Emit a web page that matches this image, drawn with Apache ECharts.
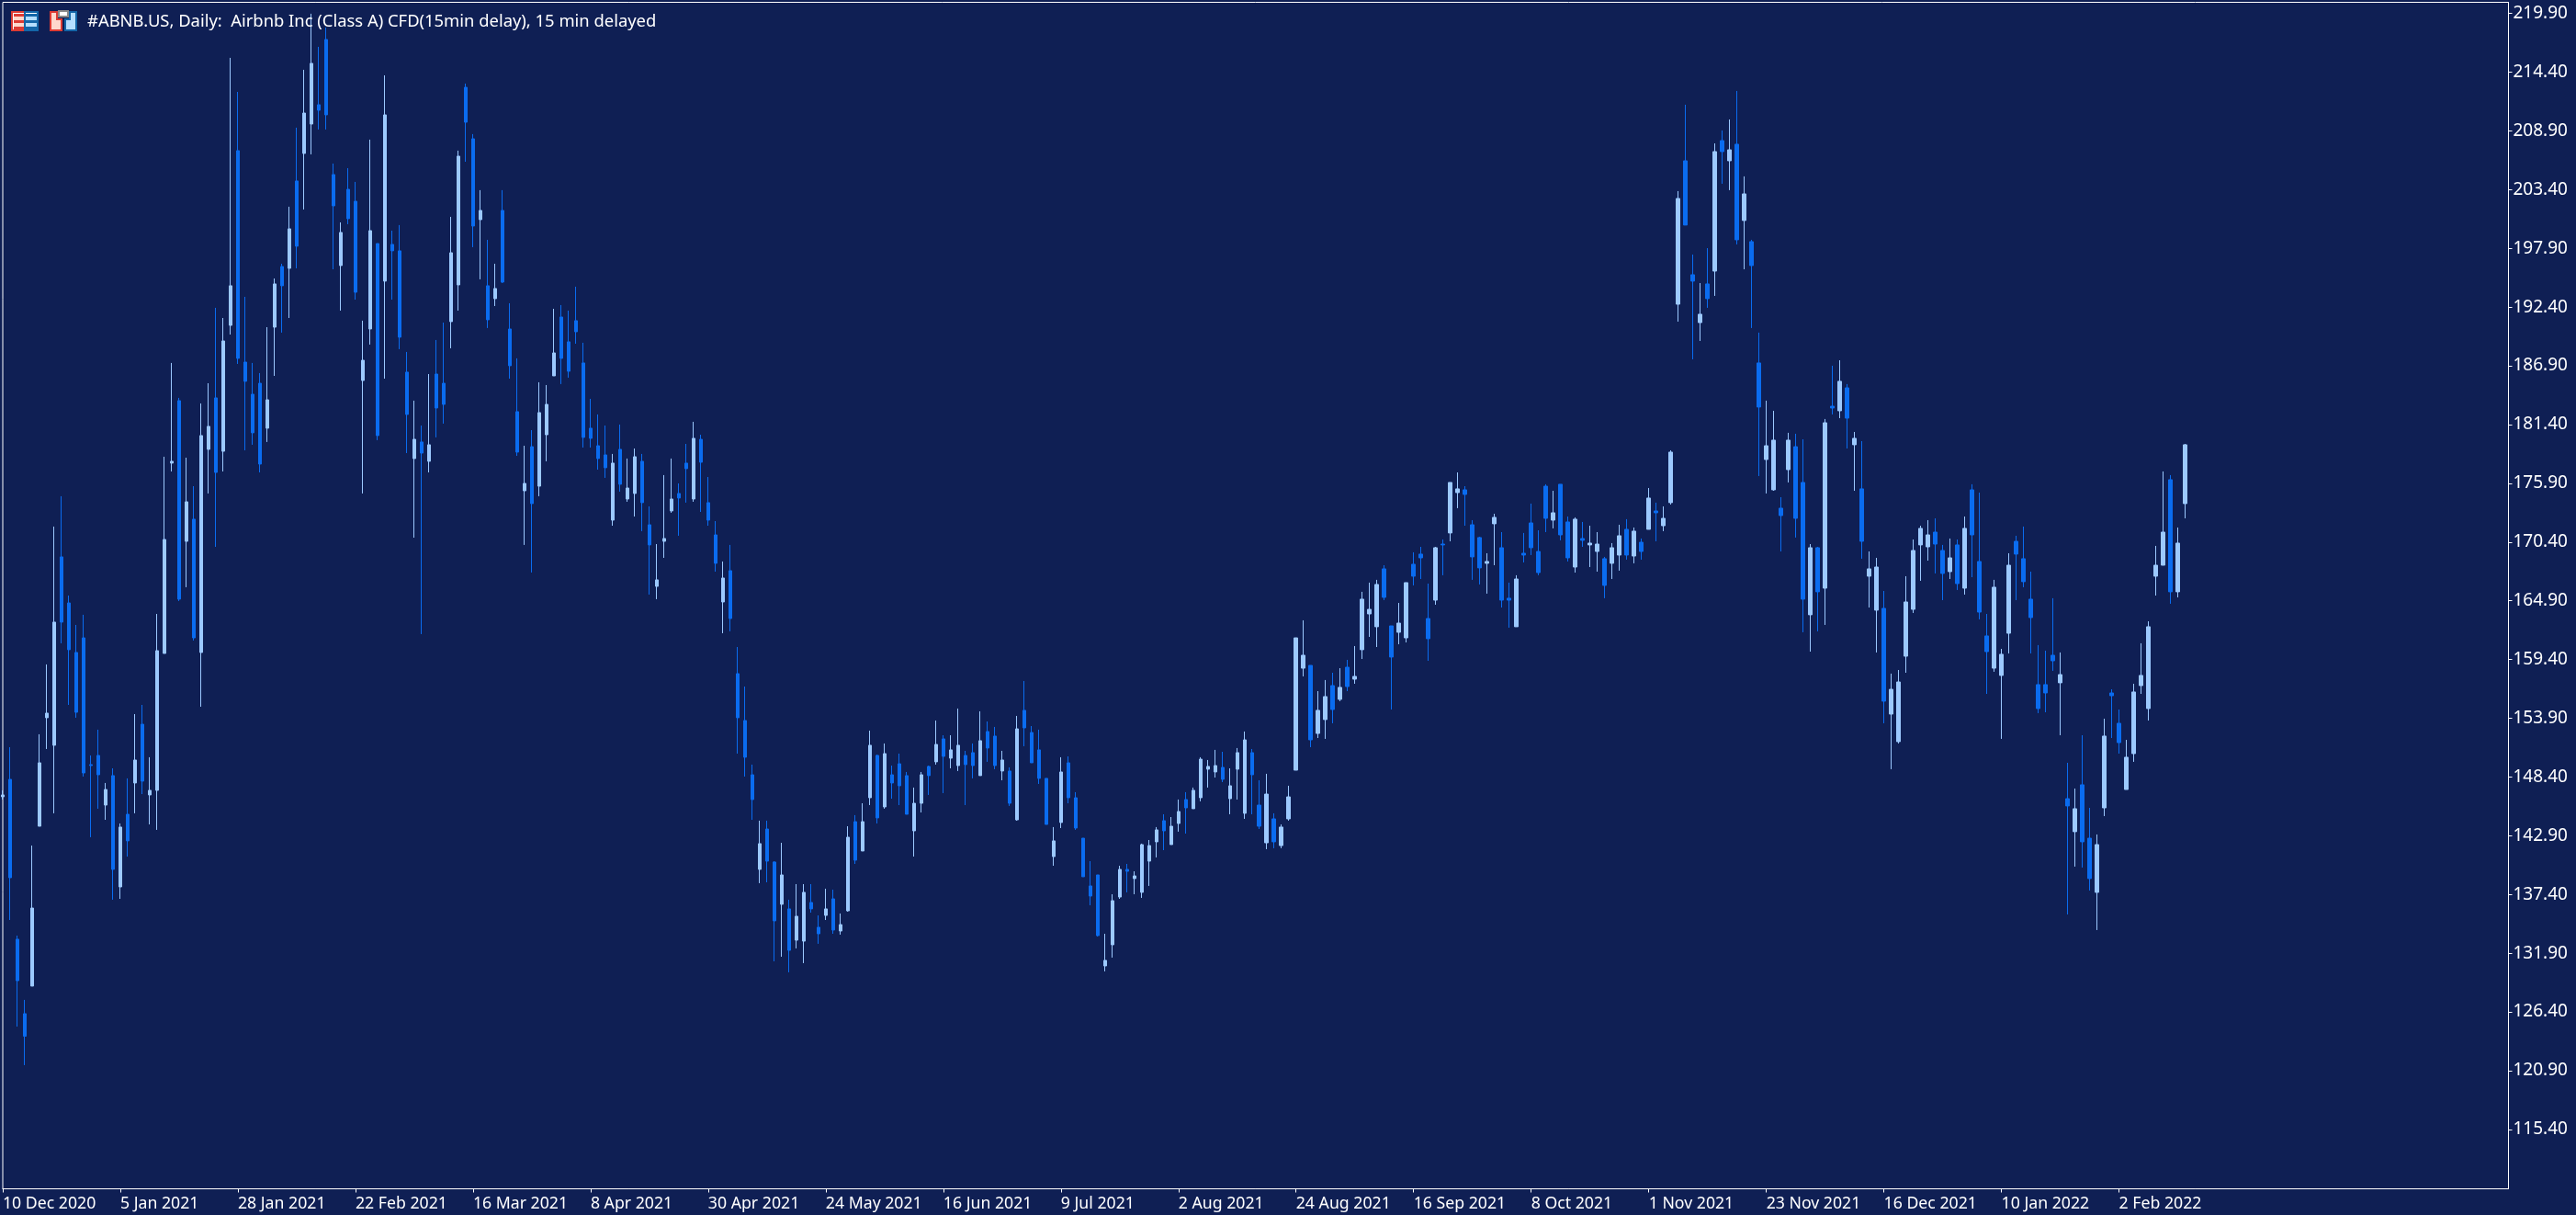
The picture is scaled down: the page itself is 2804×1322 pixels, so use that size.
<!DOCTYPE html>
<html>
<head>
<meta charset="utf-8">
<style>html,body{margin:0;padding:0;background:#0F1F54;}#c{width:2804px;height:1322px;}</style>
<script src="https://cdn.jsdelivr.net/npm/echarts@6/dist/echarts.min.js"></script>
</head>
<body>
<div id="c"></div>
<script>
const dateTicks = ["10 Dec 2020","5 Jan 2021","28 Jan 2021","22 Feb 2021","16 Mar 2021","8 Apr 2021","30 Apr 2021","24 May 2021","16 Jun 2021","9 Jul 2021","2 Aug 2021","24 Aug 2021","16 Sep 2021","8 Oct 2021","1 Nov 2021","23 Nov 2021","16 Dec 2021","10 Jan 2022","2 Feb 2022"];
const priceTicks = [219.9,214.4,208.9,203.4,197.9,192.4,186.9,181.4,175.9,170.4,164.9,159.4,153.9,148.4,142.9,137.4,131.9,126.4,120.9,115.4];
const title = "#ABNB.US, Daily:  Airbnb Inc (Class A) CFD(15min delay), 15 min delayed";
const opens = [146.55,148.18,133.21,126.24,128.82,143.79,153.95,151.37,169.01,164.70,160.06,161.43,149.56,150.42,145.77,148.53,138.11,144.91,147.84,153.34,
146.72,147.15,159.97,177.79,183.64,170.47,172.54,160.06,179.08,183.90,178.90,190.69,207.05,187.25,184.24,185.27,181.06,190.52,196.20,196.03,
204.21,206.79,209.54,211.35,217.46,204.81,196.29,203.43,202.31,185.53,190.35,198.35,194.83,198.27,197.67,186.31,178.22,179.77,177.96,186.13,
185.27,191.04,194.48,212.98,208.16,200.59,194.40,193.19,201.45,190.35,182.61,175.20,179.33,175.63,180.45,185.96,191.47,189.15,191.13,187.17,
181.06,179.42,178.56,172.45,179.08,174.43,174.95,177.96,172.02,166.25,170.47,173.31,174.95,177.79,174.43,180.02,174.09,171.07,164.79,167.72,
158.08,153.69,148.61,139.75,143.53,140.44,136.48,136.05,133.12,133.03,136.65,134.33,135.44,136.99,133.98,135.87,144.22,141.47,146.46,150.42,
145.60,148.61,149.64,148.53,143.36,145.94,149.39,149.82,151.97,150.16,149.47,150.42,150.68,148.53,152.66,152.23,148.96,148.96,144.39,154.64,
152.57,150.94,148.27,140.95,144.14,149.73,146.46,142.67,138.20,139.23,130.71,132.69,137.16,139.75,138.89,137.60,140.52,142.33,144.31,142.07,
144.05,146.29,145.43,146.46,149.13,148.87,149.30,146.37,149.13,145.00,150.68,145.77,142.24,144.48,141.98,144.48,149.04,158.59,158.85,152.48,
153.78,156.96,155.67,158.68,157.56,160.32,163.67,162.47,167.89,162.55,161.95,161.43,168.32,169.27,163.24,164.96,170.21,171.25,175.03,175.29,
172.02,170.82,168.41,172.11,169.87,165.14,162.47,169.35,172.19,169.52,175.63,172.45,175.81,172.28,168.06,170.73,170.13,169.52,168.84,168.41,
169.18,171.59,169.09,170.38,171.59,173.31,171.93,174.09,192.67,206.10,195.43,190.95,194.57,195.77,207.99,206.10,207.65,200.51,198.53,187.17,
178.13,175.29,173.57,177.18,179.33,175.98,163.59,169.87,166.08,183.12,182.69,184.84,179.51,175.38,167.20,164.02,164.19,154.29,151.71,159.71,
164.10,170.13,169.95,171.33,169.61,167.63,170.13,166.08,175.29,168.58,161.61,158.59,157.91,161.86,170.47,168.84,165.05,157.05,157.05,159.80,
157.22,146.37,143.28,147.67,142.67,137.60,145.51,156.27,153.43,147.23,150.59,156.96,154.81,167.20,168.23,176.24,165.74,174.00];
const closes = [146.72,138.97,129.33,124.13,136.13,149.73,154.38,162.90,162.90,160.32,154.46,148.78,149.47,148.61,147.23,139.75,143.71,142.42,149.99,148.01,
147.15,160.23,170.64,177.96,165.05,174.17,161.43,180.37,181.23,176.92,189.23,194.40,187.60,185.45,180.63,177.70,183.72,194.57,194.40,199.73,
198.10,210.57,215.22,210.83,210.40,201.88,199.39,200.68,193.79,187.42,199.56,180.37,210.40,197.67,189.58,182.35,180.02,178.73,179.51,182.95,
183.29,197.49,206.53,209.71,199.99,201.45,191.21,194.14,194.74,186.91,178.82,175.89,174.00,182.52,183.29,188.11,187.60,186.39,190.09,180.20,
180.11,178.22,177.36,177.79,175.81,175.46,178.39,174.09,170.13,166.86,170.73,174.43,174.52,177.27,180.11,177.87,172.45,168.41,167.03,163.24,
153.95,150.25,146.29,142.16,140.52,134.93,139.23,132.17,135.36,137.60,136.05,133.72,136.05,134.07,134.58,142.76,140.61,144.22,151.37,144.57,
150.59,147.84,147.58,144.91,145.94,148.61,148.53,151.45,150.33,150.94,151.37,149.56,149.47,151.80,151.11,149.47,149.99,145.94,152.91,153.00,
149.73,148.27,143.96,142.42,148.87,146.46,143.62,139.06,137.25,133.55,131.23,136.82,139.75,139.57,139.14,142.07,141.98,143.45,143.36,143.79,
145.17,145.51,147.15,150.07,149.39,149.47,148.18,147.58,150.68,151.88,148.61,143.79,146.80,142.33,143.71,146.54,161.43,159.80,151.88,154.64,
155.93,154.72,156.79,156.87,157.82,165.05,164.10,166.43,165.22,159.63,162.81,166.60,167.20,168.92,161.35,169.87,170.13,175.98,175.38,174.86,
169.01,167.98,168.58,172.71,164.96,164.96,166.94,169.18,169.87,167.54,172.62,173.14,171.07,168.92,172.54,170.56,170.30,170.21,166.34,169.87,
170.99,169.18,171.42,169.52,174.52,173.14,172.62,178.82,202.57,200.08,194.83,191.73,193.19,206.96,206.96,207.13,198.70,203.00,196.29,183.04,
179.42,179.94,172.88,179.94,172.62,165.05,169.87,165.74,181.57,182.95,185.45,182.00,180.11,170.47,167.89,168.06,155.50,156.61,157.30,164.79,
169.61,171.68,171.07,170.21,167.46,168.92,166.51,171.68,171.07,163.84,160.14,166.17,159.89,168.23,169.27,166.69,163.33,154.81,156.27,159.28,
157.99,145.69,145.43,142.33,138.89,142.07,152.23,156.01,151.62,150.25,156.36,157.91,162.47,168.23,171.33,165.74,170.30,179.51];
const lows = [146.29,135.01,125.03,121.42,128.82,143.79,151.02,145.00,160.92,155.15,153.95,148.44,142.76,145.43,144.39,136.91,136.99,140.95,145.00,146.80,
143.96,143.45,159.97,177.01,164.88,166.17,161.18,154.98,174.95,169.95,177.01,189.83,187.08,178.99,179.51,176.92,179.77,185.96,190.01,191.38,
196.03,201.54,206.70,209.03,209.03,195.94,192.07,200.16,193.10,174.95,188.89,179.94,185.70,193.10,188.46,178.73,170.81,161.78,176.92,180.20,
181.49,188.54,192.07,206.01,198.01,195.00,190.44,192.50,194.65,185.70,178.47,170.13,167.55,174.69,177.96,185.96,185.19,185.79,188.97,179.25,
179.25,177.18,176.41,171.93,175.12,174.17,172.79,171.42,165.48,165.05,168.92,173.14,170.99,174.09,174.17,173.22,171.93,167.63,161.86,162.04,
150.59,148.44,144.39,138.46,138.54,131.14,131.57,130.11,132.35,130.97,135.70,132.78,135.01,133.72,133.64,135.79,140.26,141.47,145.77,144.05,
145.43,146.37,145.77,144.91,140.95,145.08,146.72,149.56,146.89,149.21,148.96,145.77,148.27,148.53,149.82,149.13,148.09,145.69,144.31,151.28,
149.73,147.75,143.96,140.09,143.62,145.94,143.45,139.06,136.39,133.46,130.20,131.49,136.99,137.60,137.42,137.08,138.20,140.87,141.55,142.07,
143.28,143.10,145.43,146.12,147.41,148.35,147.92,144.91,146.29,144.48,144.91,143.53,141.64,141.73,141.73,144.31,149.04,157.82,151.19,152.05,
151.97,153.43,155.50,156.44,157.13,159.45,161.52,160.57,164.96,154.72,160.83,161.00,166.34,166.94,159.28,164.53,167.29,170.47,173.57,171.93,
166.86,166.43,165.57,168.23,164.27,162.38,162.47,168.49,169.18,167.29,171.33,171.68,170.56,168.58,167.54,169.95,168.06,167.63,165.14,166.94,
167.72,168.75,168.41,168.75,171.59,170.47,171.42,173.91,191.04,200.08,187.51,189.23,192.33,193.45,203.95,203.35,198.27,195.94,190.44,176.58,
174.95,175.20,169.52,175.98,170.82,161.95,160.14,162.04,162.64,182.35,182.00,179.16,175.20,168.84,164.27,160.06,153.43,149.13,151.54,158.16,
163.76,166.77,168.66,167.46,164.96,166.94,165.91,165.48,167.11,163.16,156.18,158.25,151.97,159.97,164.96,166.17,159.97,154.38,154.46,158.34,
152.31,135.53,140.01,139.92,137.77,134.07,144.74,152.05,150.59,147.23,149.82,156.18,153.69,165.39,168.23,164.62,165.22,172.62];
const highs = [147.15,151.19,133.55,127.53,141.98,152.40,158.94,171.85,174.69,165.39,162.64,163.59,150.42,152.83,147.84,149.21,144.05,148.27,154.29,155.15,
150.25,163.67,178.39,187.17,183.90,178.30,175.63,183.38,185.27,192.33,191.38,215.74,212.55,193.36,187.17,186.22,190.52,195.08,196.46,201.80,
209.20,214.62,219.87,216.77,218.58,205.84,200.33,205.41,204.12,191.13,208.08,198.35,214.10,199.56,200.08,188.20,183.64,181.31,186.13,189.32,
190.95,200.85,207.05,213.33,208.60,203.35,198.70,196.46,203.35,192.76,187.60,179.42,180.88,185.36,185.10,192.24,192.59,192.07,194.31,189.06,
183.81,182.35,181.31,178.65,181.40,178.22,179.16,178.65,173.74,170.21,176.67,178.22,175.89,179.59,181.66,180.45,176.49,172.36,168.58,170.13,
160.57,156.87,149.56,144.31,144.31,140.52,142.24,136.91,138.37,138.37,138.37,135.44,137.94,137.85,135.62,143.79,144.83,145.94,152.74,150.50,
151.54,149.47,150.59,148.87,147.41,148.87,149.47,153.69,152.31,152.31,154.81,150.85,151.54,154.55,153.60,153.09,150.85,149.30,154.12,157.39,
153.17,152.83,148.27,143.71,150.25,150.33,146.98,142.67,140.52,139.23,133.72,137.42,140.09,140.26,139.57,142.16,142.50,143.71,144.91,144.65,
146.29,146.98,147.41,150.25,149.99,150.94,150.76,149.21,151.11,152.66,151.02,148.09,148.70,145.00,143.96,147.58,161.43,163.07,158.85,156.44,
157.48,158.16,158.59,159.37,160.66,165.74,166.60,166.86,168.23,162.55,164.70,166.60,169.44,169.95,166.51,169.95,170.64,175.98,176.92,175.63,
172.45,170.90,169.35,173.05,171.33,166.60,167.29,171.25,174.00,171.50,175.81,175.20,175.81,172.79,172.71,172.28,171.93,171.33,169.01,170.30,
172.02,172.54,171.76,170.73,175.46,174.09,173.74,178.99,203.26,211.35,197.32,194.65,197.92,207.73,208.94,209.97,212.64,204.64,198.70,190.01,
183.64,182.69,174.60,180.63,180.54,180.02,170.21,169.95,181.92,186.91,187.42,185.19,180.71,179.85,169.52,168.92,165.82,158.08,158.42,167.20,
170.64,171.93,172.45,172.62,170.13,170.73,170.64,172.79,175.81,175.03,163.67,166.86,160.40,169.35,170.99,171.85,167.63,160.75,160.23,165.14,
160.06,149.73,147.32,152.31,145.51,143.02,153.86,156.61,154.72,151.88,157.13,160.92,162.98,170.04,177.01,176.67,171.76,179.59];
const LABEL_STEP = 16, SLOT_COUNT = 342;
const categories = [];
for (let i = 0; i < SLOT_COUNT; i++) categories.push(i % LABEL_STEP === 0 && dateTicks[i / LABEL_STEP] ? dateTicks[i / LABEL_STEP] : '');
const candles = opens.map((o, i) => [o, closes[i], lows[i], highs[i]]);
const BG = '#0F1F54', UP = '#9CC9FF', DOWN = '#0A6CF0', WHITE = '#FFFFFF', FONT = '"Noto Sans", sans-serif';
const showTick = (i) => i % LABEL_STEP === 0 && i / LABEL_STEP < dateTicks.length;
const red = '#DD3B33', blue = '#1466A8';
const icons = [
 {type:'rect',shape:{x:13,y:13,width:14,height:20},style:{fill:'#FFFFFF',stroke:red,lineWidth:2}},
 {type:'rect',shape:{x:27,y:13,width:14,height:20},style:{fill:'#FFFFFF',stroke:blue,lineWidth:2}},
 {type:'rect',shape:{x:15,y:15,width:11,height:3},style:{fill:red}},
 {type:'rect',shape:{x:15,y:18,width:11,height:4},style:{fill:'#FFD8CC'}},
 {type:'rect',shape:{x:15,y:22,width:11,height:3},style:{fill:red}},
 {type:'rect',shape:{x:15,y:25,width:11,height:4},style:{fill:'#FFD8CC'}},
 {type:'rect',shape:{x:15,y:29,width:11,height:3},style:{fill:red}},
 {type:'rect',shape:{x:28,y:15,width:12,height:3},style:{fill:blue}},
 {type:'rect',shape:{x:28,y:18,width:12,height:4},style:{fill:'#B5DEFF'}},
 {type:'rect',shape:{x:28,y:22,width:12,height:3},style:{fill:blue}},
 {type:'rect',shape:{x:28,y:25,width:12,height:4},style:{fill:'#B5DEFF'}},
 {type:'rect',shape:{x:28,y:29,width:12,height:3},style:{fill:blue}},
 {type:'polygon',shape:{points:[[55,13],[62,13],[62,21],[67,21],[67,33],[55,33]]},style:{fill:'#FFD8CC',stroke:red,lineWidth:2}},
 {type:'polygon',shape:{points:[[76,13],[83,13],[83,33],[71,33],[71,21],[76,21]]},style:{fill:'#B5DEFF',stroke:blue,lineWidth:2}},
 {type:'rect',shape:{x:64,y:12,width:10,height:6},style:{fill:'#FFFFFF',stroke:'#8A8A8A',lineWidth:2}},
 {type:'text',x:95,y:24,style:{text:title,fill:WHITE,font:'18.4px '+FONT,textVerticalAlign:'middle',textAlign:'left'}}
];
const chart = echarts.init(document.getElementById('c'), null, {renderer:'canvas', width:2804, height:1322});
chart.setOption({
  animation:false,
  backgroundColor:BG,
  grid:{left:2.5,right:73.5,top:2.5,bottom:28.5,show:true,borderColor:WHITE,borderWidth:1,backgroundColor:'transparent'},
  xAxis:{type:'category',data:categories,boundaryGap:false,
    axisLine:{show:true,onZero:false,lineStyle:{color:WHITE,width:1}},
    axisTick:{show:true,interval:showTick,length:4,lineStyle:{color:WHITE,width:1}},
    axisLabel:{show:true,interval:showTick,color:WHITE,fontFamily:FONT,fontSize:17.7,align:'left',margin:7,hideOverlap:false},
    splitLine:{show:false}},
  yAxis:{type:'value',position:'right',scale:true,min:109.84,max:220.94,
    axisLine:{show:true,lineStyle:{color:WHITE,width:1}},
    axisTick:{show:true,customValues:priceTicks,length:4,lineStyle:{color:WHITE,width:1}},
    axisLabel:{show:true,customValues:priceTicks,color:WHITE,fontFamily:FONT,fontSize:19,margin:5,padding:[8,0,0,0],formatter:(v)=>v.toFixed(2),showMinLabel:true,showMaxLabel:true},
    splitLine:{show:false}},
  series:[{type:'candlestick',data:candles,barWidth:4,clip:true,
    itemStyle:{color:UP,color0:DOWN,borderColor:UP,borderColor0:DOWN,borderColorDoji:UP,borderWidth:1}}],
  graphic:{elements:icons.map(e=>Object.assign({silent:true,z:100},e))}
});
</script>
</body>
</html>
